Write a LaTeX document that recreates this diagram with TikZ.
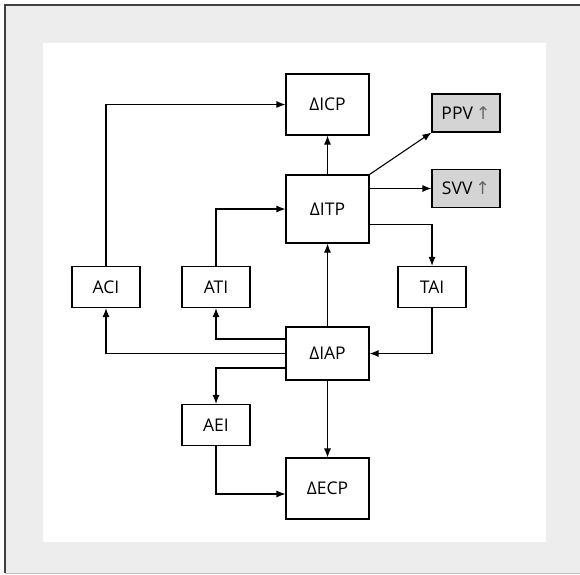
\documentclass[tikz,border=0pt]{standalone}
\usepackage{fontspec}
\setmainfont{Open Sans}
\newfontfamily\arrowfont{DejaVu Sans}
\usetikzlibrary{arrows.meta}
\definecolor{panelgrey}{HTML}{ECEDEC}
\definecolor{boxgrey}{HTML}{D4D4D4}
\newcommand{\upmark}{\,{\arrowfont\color{black!60}↑}}
\tikzset{
  block/.style={draw, line width=1.1pt, fill=white, minimum width=83pt, font=\fontsize{17.5}{20}\selectfont},
  smallblock/.style={block, minimum width=68pt, minimum height=41pt},
  outblock/.style={block, fill=boxgrey, minimum width=68pt, minimum height=38pt},
  link/.style={line width=1.1pt, -{Latex[length=9pt,width=7pt]}}
}
\begin{document}
\begin{tikzpicture}[x=1pt, y=-1pt]
        \useasboundingbox (0,0) rectangle (580,574);

        % Draw panel
        \fill[panelgrey] (5,5) rectangle (580,573);
        \fill[white] (43,43) rectangle (546,542);
        \draw[line width=1.5pt, black!75] (5,573) -- (5,5) -- (580,5);
        \draw[line width=1pt, black!25] (5,573) -- (580,573);

        % Draw nodes
        \node[block, minimum height=61pt] (icp) at (327.5,104.5) {ΔICP};
        \node[block, minimum height=68pt] (itp) at (327.5,209) {ΔITP};
        \node[block, minimum height=53pt] (iap) at (327.5,353.5) {ΔIAP};
        \node[block, minimum height=61pt] (ecp) at (327.5,488.5) {ΔECP};
        \node[outblock] (ppv) at (466,113) {PPV\upmark};
        \node[outblock] (svv) at (466,188.5) {SVV\upmark};
        \node[smallblock] (aci) at (106,287) {ACI};
        \node[smallblock] (ati) at (216,287) {ATI};
        \node[smallblock] (tai) at (432,287) {TAI};
        \node[smallblock] (aei) at (216,425) {AEI};

        % Draw connectors
        \draw[link] (aci.north) |- (icp.west);
        \draw[link] (ati.north) |- (itp.west);
        \draw[link] (itp.north) -- (icp.south);
        \draw[link] (itp.north east) -- (ppv.south west);
        \draw[link] (itp.east |- svv.west) -- (svv.west);
        \draw[link] ([yshift=-15.5pt]itp.east) -| (tai.north);
        \draw[link] (tai.south) |- (iap.east);
        \draw[link] (iap.north) -- (itp.south);
        \draw[link] ([yshift=14.5pt]iap.west) -| (ati.south);
        \draw[link] (iap.west) -| (aci.south);
        \draw[link] ([yshift=-14.5pt]iap.west) -| (aei.north);
        \draw[link] (iap.south) -- (ecp.north);
        \draw[link] (aei.south) |- ([yshift=-5.5pt]ecp.west);
\end{tikzpicture}
\end{document}
